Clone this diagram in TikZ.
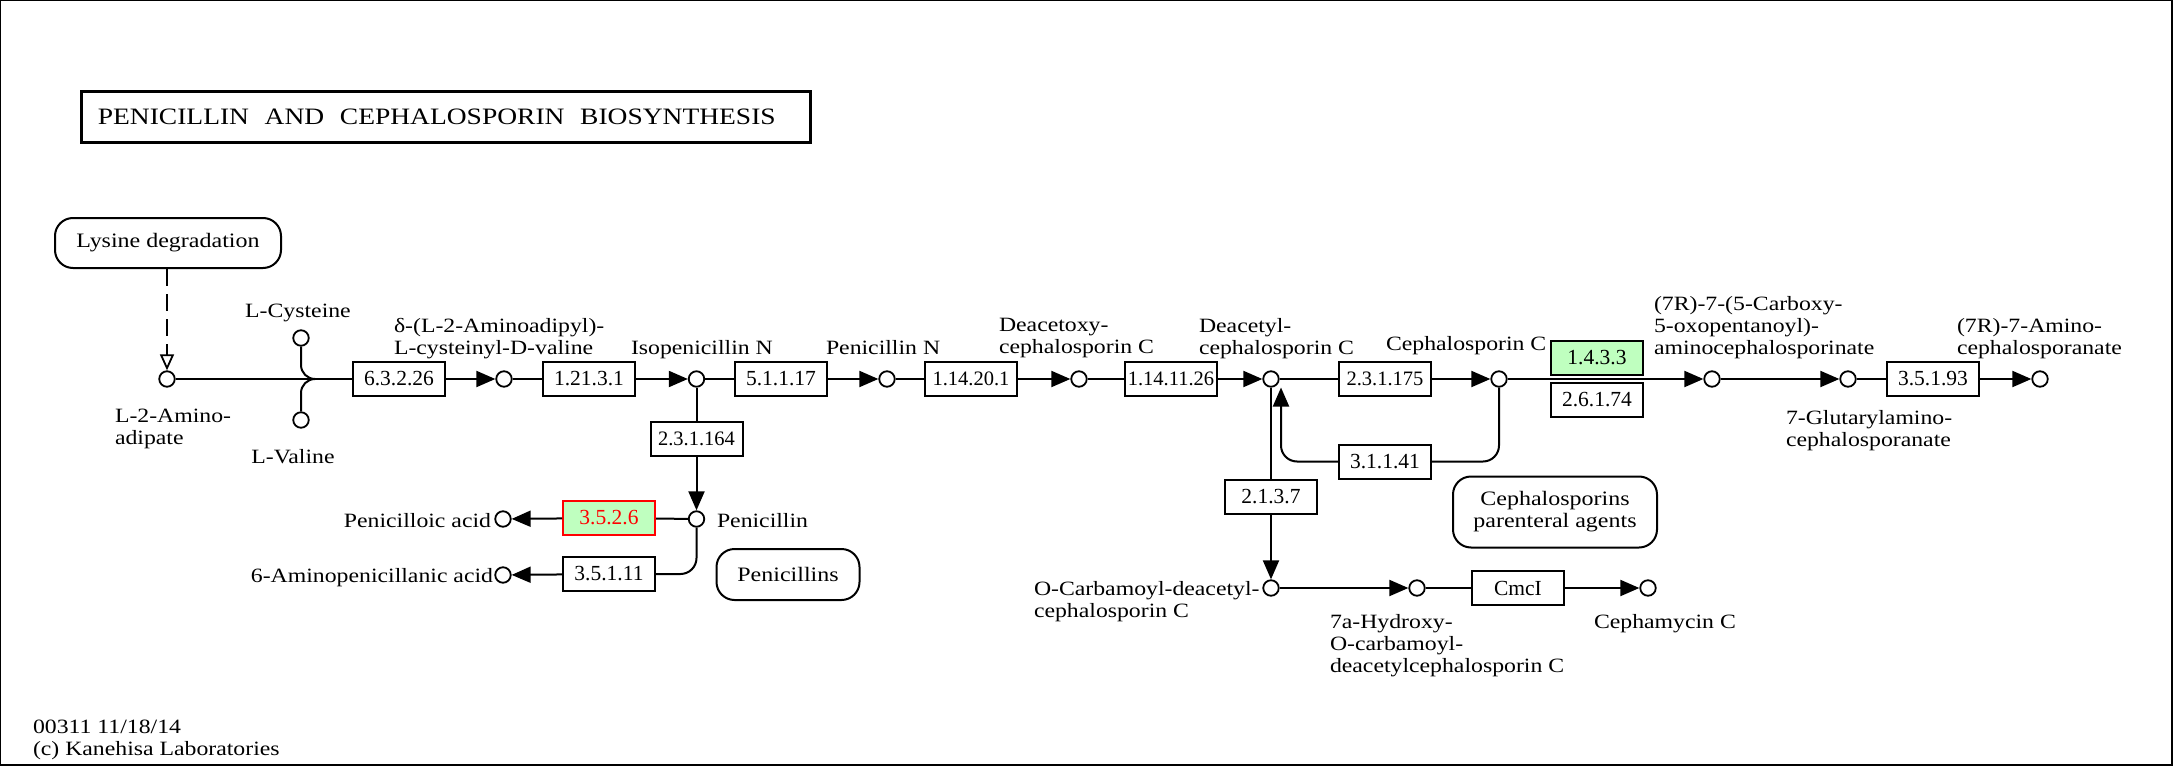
\documentclass[tikz,border=0pt]{standalone}
\usepackage{fontspec}
\setmainfont{Liberation Serif}[FakeStretch=1.17]
\newfontfamily\enzfont{Liberation Serif}[FakeStretch=1.0]
\usetikzlibrary{arrows.meta}
\definecolor{kgreen}{HTML}{BFFFBF}
\definecolor{kred}{HTML}{FF0000}
\begin{document}
\begin{tikzpicture}[x=1pt,y=-1pt,line width=2pt,
  cpd/.style={circle,draw,fill=white,minimum size=15.5pt,inner sep=0pt,line width=1.8pt},
  enz/.style={draw,rectangle,fill=white,minimum width=92pt,minimum height=34pt,inner sep=0pt,font=\enzfont\fontsize{21.5}{22}\selectfont},
  enzs/.style={enz,font=\enzfont\fontsize{20.5}{22}\selectfont},
  hit/.style={fill=kgreen},
  pathway/.style={draw,rounded corners=18pt,align=center,inner sep=0pt,font=\fontsize{20.5}{22}\selectfont},
  lbl/.style={inner sep=0pt,align=left,font=\fontsize{20.3}{22}\selectfont},
  rx/.style={-{Triangle[length=19pt,width=16pt]}},
  rel/.style={dash pattern=on 17pt off 8pt,-{Triangle[open,length=16pt,width=14pt,line width=1.8pt]}}]
\useasboundingbox (0,0) rectangle (2174,768);
\draw[line width=2.3pt] (0,0) rectangle (2172.2,765.2);
% title
\node[draw,line width=3pt,minimum height=51pt,inner xsep=16pt,inner ysep=0pt,text width=697pt,align=left,anchor=west,font=\fontsize{23.5}{26}\selectfont] (title) at (80.4,117) {PENICILLIN\ \ AND\ \ CEPHALOSPORIN\ \ BIOSYNTHESIS};
% pathway maps
\node[pathway,minimum width=226pt,minimum height=50pt] (lys) at (168,243) {Lysine degradation};
\node[pathway,minimum width=143pt,minimum height=51pt] (pens) at (788,574.5) {Penicillins};
\node[pathway,minimum width=204pt,minimum height=71pt] (cephs) at (1555,512) {Cephalosporins\\parenteral agents};
% compounds main row
\node[cpd] (aad) at (167,379) {};
\node[cpd] (cys) at (301,338) {};
\node[cpd] (val) at (301,420) {};
\coordinate (mrg) at (315,379);
\node[enz] (e6326) at (399,379) {6.3.2.26};
\node[cpd] (acv) at (504,379) {};
\node[enz] (e12131) at (589,379) {1.21.3.1};
\node[cpd] (ipn) at (696.5,379) {};
\node[enz] (e51117) at (781,379) {5.1.1.17};
\node[cpd] (pen) at (887,379) {};
\node[enzs] (e114201) at (971,379) {1.14.20.1};
\node[cpd] (daoc) at (1079,379) {};
\node[enzs] (e1141126) at (1171,379) {1.14.11.26};
\node[cpd] (dac) at (1271,379) {};
\node[enzs] (e231175) at (1385,379) {2.3.1.175};
\node[cpd] (cpc) at (1499,379) {};
\node[enz,hit] (e1433) at (1597,357.5) {1.4.3.3};
\node[enz] (e26174) at (1597,399.5) {2.6.1.74};
\node[cpd] (cr7) at (1712,379) {};
\node[cpd] (glut) at (1848,379) {};
\node[enz] (e35193) at (1933,379) {3.5.1.93};
\node[cpd] (aca) at (2040,379) {};
% penicillin branch
\node[enzs] (e231164) at (696.5,439) {2.3.1.164};
\node[cpd] (pcn) at (696.5,519) {};
\node[enz,hit,draw=kred,text=kred] (e3526) at (609,518) {3.5.2.6};
\node[cpd] (pa) at (503,519) {};
\node[enz] (e35111) at (609,574) {3.5.1.11};
\node[cpd] (apa) at (503,575) {};
% cephalosporin branch
\node[enz] (e311141) at (1385,461.5) {3.1.1.41};
\node[enz] (e2137) at (1271,497) {2.1.3.7};
\node[cpd] (ocdac) at (1271,588) {};
\node[cpd] (hoc) at (1417,588) {};
\node[enz] (ecmci) at (1518,588) {CmcI};
\node[cpd] (cephamycin) at (1648,588) {};
\coordinate (dacin) at (1281,387.5);
% connectors
\draw[rel] (aad |- lys.south) -- (aad);
\draw (aad) -- (e6326);
\draw[rounded corners=14pt] (cys) |- (mrg);
\draw[rounded corners=14pt] (val) |- (mrg);
\draw[rx] (e6326) -- (acv);
\draw (acv) -- (e12131);
\draw[rx] (e12131) -- (ipn);
\draw (ipn) -- (e51117);
\draw[rx] (e51117) -- (pen);
\draw (pen) -- (e114201);
\draw[rx] (e114201) -- (daoc);
\draw (daoc) -- (e1141126);
\draw[rx] (e1141126) -- (dac);
\draw (dac) -- (e231175);
\draw[rx] (e231175) -- (cpc);
\draw[rx] (cpc) -- (cr7);
\draw[rx] (cr7) -- (glut);
\draw (glut) -- (e35193);
\draw[rx] (e35193) -- (aca);
\draw (ipn) -- (e231164);
\draw[rx] (e231164) -- (pcn);
\draw (pcn) -- (e3526);
\draw[rx] (e3526) -- (pa);
\draw[rounded corners=16pt] (pcn) |- (e35111);
\draw[rx] (e35111) -- (apa);
\draw[rounded corners=16pt] (cpc) |- (e311141);
\draw[rx,rounded corners=16pt] (e311141) -| (dacin);
\draw (dac) -- (e2137);
\draw[rx] (e2137) -- (ocdac);
\draw[rx] (ocdac) -- (hoc);
\draw (hoc) -- (ecmci);
\draw[rx] (ecmci) -- (cephamycin);
% labels
\node[lbl,anchor=north] (tcys) at (298,303.5) {L-Cysteine};
\node[lbl,anchor=north west] (tacv) at (393,317) {δ-(L-2-Aminoadipyl)-\\L-cysteinyl-D-valine};
\node[lbl,anchor=north west] (tipn) at (630,339) {Isopenicillin N};
\node[lbl,anchor=north west] (tpen) at (825,339) {Penicillin N};
\node[lbl,anchor=north west] (tdaoc) at (998,317) {Deacetoxy-\\cephalosporin C};
\node[lbl,anchor=north west] (tdac) at (1198,317) {Deacetyl-\\cephalosporin C};
\node[lbl,anchor=north west] (tcpc) at (1385,335.5) {Cephalosporin C};
\node[lbl,anchor=north west] (tcr7) at (1653,295) {(7R)-7-(5-Carboxy-\\5-oxopentanoyl)-\\aminocephalosporinate};
\node[lbl,anchor=north west] (taca) at (1956,317) {(7R)-7-Amino-\\cephalosporanate};
\node[lbl,anchor=north west] (taad) at (114,408) {L-2-Amino-\\adipate};
\node[lbl,anchor=north] (tval) at (293,448) {L-Valine};
\node[lbl,anchor=north west] (tglut) at (1785,409.5) {7-Glutarylamino-\\cephalosporanate};
\node[lbl,anchor=north east] (tpa) at (492,512) {Penicilloic acid};
\node[lbl,anchor=north west] (tpcn) at (716,512) {Penicillin};
\node[lbl,anchor=north east] (tapa) at (494,567.5) {6-Aminopenicillanic acid};
\node[lbl,anchor=north west] (tocdac) at (1033,580) {O-Carbamoyl-deacetyl-\\cephalosporin C};
\node[lbl,anchor=north west] (thoc) at (1329,613.5) {7a-Hydroxy-\\O-carbamoyl-\\deacetylcephalosporin C};
\node[lbl,anchor=north west] (tceph) at (1593,613.5) {Cephamycin C};
\node[lbl,anchor=north west] (tfoot) at (32,719) {00311 11/18/14\\(c) Kanehisa Laboratories};
\end{tikzpicture}
\end{document}
